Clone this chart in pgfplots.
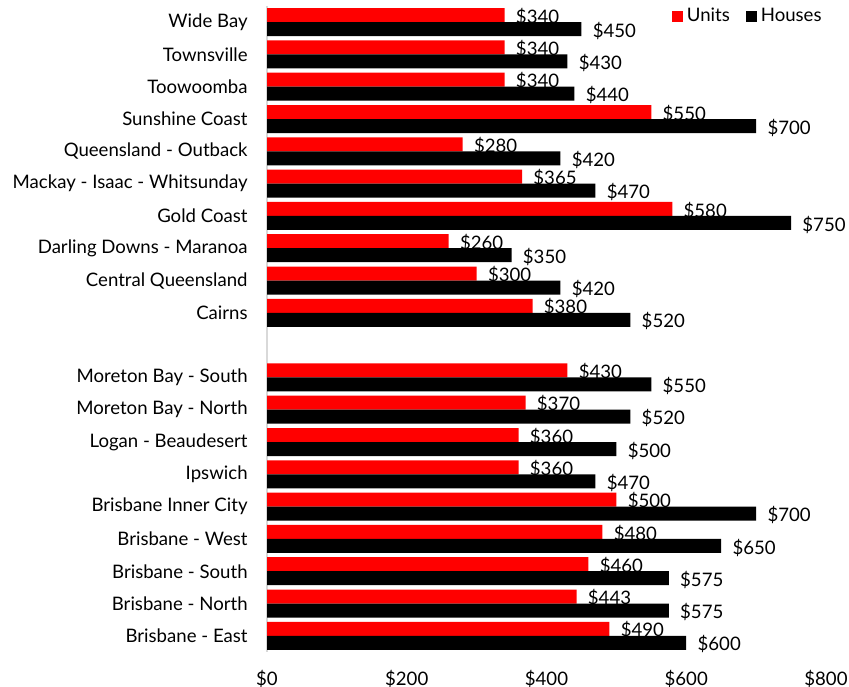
\documentclass[border=0pt]{standalone}
\usepackage{pgfplots}
\pgfplotsset{compat=1.18}
\usepackage{fontspec}
\setmainfont{Lato}
\definecolor{unitred}{RGB}{255,0,0}
\begin{document}
\begin{tikzpicture}
\begin{axis}[
  name=ax,
  scale only axis,
  width=279.5pt, height=323pt,
  xbar,
  bar width=7pt,
  xmin=0, xmax=800,
  ymin=-0.5, ymax=19.5,
  xtick={0,200,400,600,800},
  xticklabels={\$0,\$200,\$400,\$600,\$800},
  ytick={0,1,2,3,4,5,6,7,8,10,11,12,13,14,15,16,17,18,19},
  yticklabels={Brisbane - East,Brisbane - North,Brisbane - South,Brisbane - West,Brisbane Inner City,Ipswich,Logan - Beaudesert,Moreton Bay - North,Moreton Bay - South,Cairns,Central Queensland,Darling Downs - Maranoa,Gold Coast,Mackay - Isaac - Whitsunday,Queensland - Outback,Sunshine Coast,Toowoomba,Townsville,Wide Bay},
  major tick length=0pt,
  axis lines*=left,
  x axis line style={draw=none},
  y axis line style={draw=black!15, line width=0.6pt},
  tick label style={font=\fontsize{9.3pt}{11pt}\selectfont},
  yticklabel style={inner sep=0pt, xshift=-9.5pt},
  xticklabel style={inner sep=0pt, yshift=-9pt},
  nodes near coords={\$\pgfmathprintnumber[assume math mode=true]{\pgfplotspointmeta}},
  every node near coord/.append style={font=\fontsize{9.3pt}{11pt}\selectfont, anchor=west, inner sep=0pt, xshift=5.5pt, yshift=-0.8pt, black},
  clip=false,
  legend columns=2,
  legend style={at={(1,1)}, anchor=north east, draw=none, fill=none, font=\fontsize{9.3pt}{11pt}\selectfont, inner sep=0pt, yshift=1pt,
    /tikz/every even column/.append style={column sep=6pt}},
  legend image code/.code={\fill[#1] (0pt,-2.75pt) rectangle (5.5pt,2.75pt);},
]
\addplot[fill=unitred, draw=none, bar shift=3.5pt] coordinates {
(490,0) (443,1) (460,2) (480,3) (500,4) (360,5) (360,6) (370,7) (430,8)
(380,10) (300,11) (260,12) (580,13) (365,14) (280,15) (550,16) (340,17) (340,18) (340,19)};
\addlegendentry{Units}
\addplot[fill=black, draw=none, bar shift=-3.5pt] coordinates {
(600,0) (575,1) (575,2) (650,3) (700,4) (470,5) (500,6) (520,7) (550,8)
(520,10) (420,11) (350,12) (750,13) (470,14) (420,15) (700,16) (440,17) (430,18) (450,19)};
\addlegendentry{Houses}
\end{axis}
\pgfresetboundingbox
\path ([shift={(-133.5pt,-17.5pt)}]ax.south west) rectangle ([shift={(11.5pt,3pt)}]ax.north east);
\end{tikzpicture}
\end{document}
